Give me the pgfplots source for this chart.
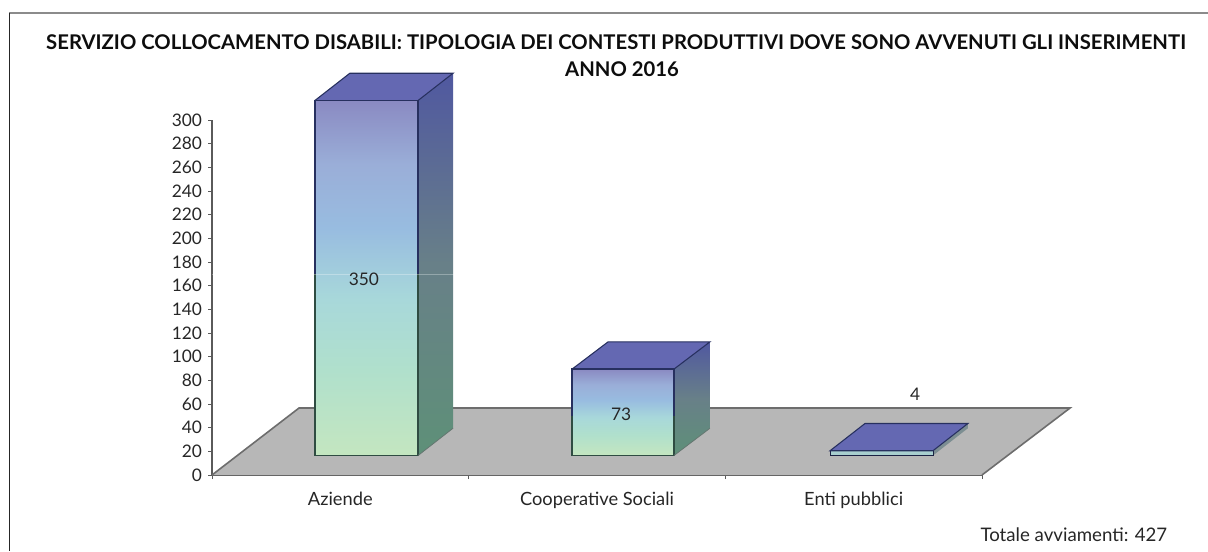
\documentclass[border=0pt]{standalone}
\usepackage{pgfplots}
\pgfplotsset{compat=1.18}
\usepackage{fontspec}
\setmainfont{Lato}
\definecolor{navy}{HTML}{27305F}
\definecolor{dkgreen}{HTML}{2F4C42}
\definecolor{topface}{HTML}{6468B2}
\definecolor{floorc}{HTML}{B7B7B7}
\definecolor{axc}{HTML}{5A5A5A}
\definecolor{fa}{HTML}{C4E6C0}
\definecolor{fb}{HTML}{B0E0CC}
\definecolor{fc}{HTML}{A8D8DA}
\definecolor{fd}{HTML}{98BCE0}
\definecolor{fe}{HTML}{9AAED8}
\definecolor{ff}{HTML}{8A8AC2}
\definecolor{sa}{HTML}{5E9078}
\definecolor{sb}{HTML}{688088}
\definecolor{sc}{HTML}{5058A0}
\definecolor{thinside}{HTML}{7C8E92}
\definecolor{thinfront}{HTML}{A8CFCF}
\pgfdeclareverticalshading{frontA}{100bp}{
 color(0bp)=(fa);
 color(25bp)=(fa);
 color(37bp)=(fb);
 color(47bp)=(fc);
 color(57bp)=(fd);
 color(66bp)=(fe);
 color(75bp)=(ff);
 color(100bp)=(ff)}
\pgfdeclareverticalshading{sideA}{100bp}{
 color(0bp)=(sa);
 color(25bp)=(sa);
 color(50bp)=(sb);
 color(75bp)=(sc);
 color(100bp)=(sc)}
\begin{document}
\begin{tikzpicture}[x=0.75pt,y=0.75pt]
\useasboundingbox (0,0) rectangle (1208,551);
\draw[axc!70!white,line width=0.8pt] (9,538) -- (1208,538);
\draw[black!85,line width=1.1pt] (9.5,538) -- (9.5,0);
\begin{axis}[
 at={(159pt,57pt)},anchor=south west,
 scale only axis,
 width=577.5pt,height=266.25pt,
 xmin=0,xmax=3,ymin=0,ymax=300,
 clip=false,
 axis y line*=left,axis x line*=bottom,
 axis line style={axc,line width=1.6pt,-},
 xtick={0,1,2,3},xticklabels={},
 extra x ticks={0.5,1.5,2.5},
 extra x tick labels={Aziende,Cooperative Sociali,Enti pubblici},
 extra x tick style={major tick length=0pt,tick label style={font=\fontsize{13.7}{15}\selectfont}},
 ytick={0,20,...,300},
 tick style={axc,line width=0.6pt},
 major tick length=3pt,
 tick align=outside,
 /pgf/number format/assume math mode=true,
 tick label style={font=\fontsize{13}{15}\selectfont,text=black!85},
 x tick label style={yshift=-9.2pt},
 y tick label style={xshift=-1pt},
]
% floor
\addplot[fill=floorc,draw=none] coordinates {(0,0) (3,0) (3.343,56.6) (0.339,56.6)} -- cycle;
\addplot[axc!80!floorc,line width=1.2pt] coordinates {(0,0) (0.339,56.6) (3.343,56.6) (3,0)};
% Aziende: 350, cut at 300 by the axis
\addplot[shading=sideA,draw=none] coordinates {(0.803,16.5) (0.939,39.5) (0.939,339.5) (0.803,316.5)} -- cycle;
\addplot[fill=topface,draw=none] coordinates {(0.401,316.5) (0.803,316.5) (0.939,339.5) (0.537,339.5)} -- cycle;
\addplot[shading=frontA,draw=none] coordinates {(0.401,16.5) (0.803,16.5) (0.803,316.5) (0.401,316.5)} -- cycle;
\addplot[navy,line width=1.2pt] coordinates {(0.401,170) (0.401,316.5) (0.803,316.5) (0.803,170)};
\addplot[navy,line width=0.8pt] coordinates {(0.401,316.5) (0.537,339.5) (0.939,339.5) (0.803,316.5)};
\addplot[dkgreen,line width=1.2pt] coordinates {(0.401,170) (0.401,16.5) (0.803,16.5) (0.803,170)};
\addplot[dkgreen!60!floorc,line width=0.6pt] coordinates {(0.803,16.5) (0.939,39.5)};
\addplot[white,opacity=0.3,line width=0.4pt] coordinates {(0,169.5) (0.95,169.5)};
% Cooperative Sociali: 73
\addplot[shading=sideA,draw=none] coordinates {(1.80,16.5) (1.94,39.5) (1.94,112.5) (1.80,89.5)} -- cycle;
\addplot[fill=topface,draw=none] coordinates {(1.403,89.5) (1.80,89.5) (1.94,112.5) (1.543,112.5)} -- cycle;
\addplot[shading=frontA,draw=none] coordinates {(1.403,16.5) (1.80,16.5) (1.80,89.5) (1.403,89.5)} -- cycle;
\addplot[navy,line width=1.2pt] coordinates {(1.403,50) (1.403,89.5) (1.80,89.5) (1.80,50)};
\addplot[navy,line width=0.8pt] coordinates {(1.403,89.5) (1.543,112.5) (1.94,112.5) (1.80,89.5)};
\addplot[dkgreen,line width=1.2pt] coordinates {(1.403,50) (1.403,16.5) (1.80,16.5) (1.80,50)};
\addplot[dkgreen!60!floorc,line width=0.6pt] coordinates {(1.80,16.5) (1.94,39.5)};
% Enti pubblici: 4
\addplot[fill=thinside,draw=none] coordinates {(2.809,16.5) (2.945,39.5) (2.945,43.5) (2.809,20.5)} -- cycle;
\addplot[fill=thinfront,draw=navy!70!black,line width=0.6pt] coordinates {(2.408,16.5) (2.809,16.5) (2.809,20.5) (2.408,20.5)} -- cycle;
\addplot[fill=topface,draw=navy,line width=0.8pt] coordinates {(2.408,20.5) (2.809,20.5) (2.945,43.5) (2.544,43.5)} -- cycle;
% value labels
\node[font=\fontsize{13}{15}\selectfont,text=black!85] at (axis cs:0.592,165) {350};
\node[font=\fontsize{13}{15}\selectfont,text=black!85] at (axis cs:1.594,51.5) {73};
\node[font=\fontsize{13}{15}\selectfont,text=black!85] at (axis cs:2.74,68.5) {4};
\end{axis}
\node[font=\bfseries\fontsize{15.2}{17}\selectfont,text=black!95] at (616,509) {SERVIZIO COLLOCAMENTO DISABILI: TIPOLOGIA DEI CONTESTI PRODUTTIVI DOVE SONO AVVENUTI GLI INSERIMENTI};
\node[font=\bfseries\fontsize{15.2}{17}\selectfont,text=black!95] at (622,482) {ANNO 2016};
\node[font=\fontsize{14}{16}\selectfont,text=black!85,anchor=east] at (1172,16) {Totale avviamenti: 427};
\end{tikzpicture}
\end{document}
